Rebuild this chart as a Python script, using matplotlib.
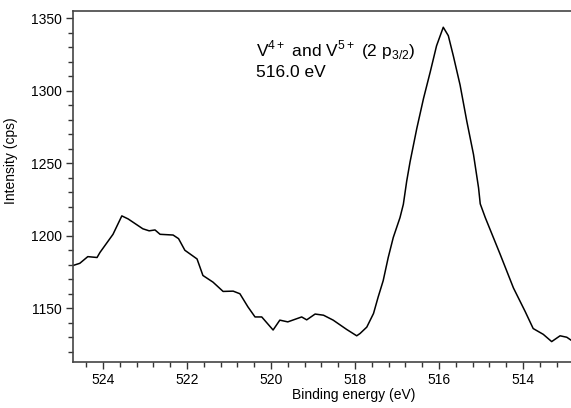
import matplotlib
matplotlib.use('Agg')
import matplotlib.pyplot as plt
from matplotlib.ticker import MultipleLocator

plt.rcParams['font.family'] = ['Liberation Sans', 'DejaVu Sans']
plt.rcParams['mathtext.fontset'] = 'custom'
plt.rcParams['mathtext.rm'] = 'Liberation Sans'

# binding energy (eV) and intensity (cps)
energy = [524.71, 524.55, 524.36, 524.14, 524.07, 523.76, 523.55, 523.4, 523.05,
          522.9, 522.76, 522.64, 522.33, 522.2, 522.05, 521.76, 521.62, 521.38,
          521.14, 520.9, 520.74, 520.55, 520.38, 520.22, 519.95, 519.79, 519.6,
          519.27, 519.15, 518.95, 518.75, 518.52, 518.2, 517.96, 517.88, 517.72,
          517.56, 517.45, 517.33, 517.21, 517.09, 516.93, 516.85, 516.77, 516.69,
          516.53, 516.37, 516.21, 516.06, 515.9, 515.78, 515.66, 515.5, 515.34,
          515.18, 515.06, 515.02, 514.9, 514.55, 514.23, 513.95, 513.76, 513.52,
          513.32, 513.12, 512.96, 512.86]
intensity = [1179.5, 1181, 1185.6, 1185, 1188.5, 1201, 1213.7, 1211.6, 1204.8,
             1203.4, 1204, 1201, 1200.5, 1198, 1190, 1184, 1172.6, 1168,
             1161.6, 1161.8, 1160, 1151, 1144, 1144, 1135, 1141.8, 1140.6,
             1144, 1142, 1146, 1145.2, 1141.8, 1135.4, 1131, 1132.6, 1137,
             1146.4, 1157.7, 1169, 1185, 1198.8, 1212.5, 1221.7, 1237.7, 1251,
             1274, 1294.7, 1313, 1331, 1343.8, 1338, 1324, 1304, 1279,
             1256, 1233, 1222, 1212.5, 1187.5, 1164, 1147.7, 1136, 1132,
             1127, 1131, 1130, 1128]

fig = plt.figure(figsize=(5.71, 4.08), dpi=100)
ax = fig.add_axes([0.128, 0.113, 0.872, 0.86])
ax.plot(energy, intensity, color='black', lw=1.1)

ax.set_xlim(524.71, 512.86)
ax.set_ylim(1113, 1355)
ax.xaxis.set_major_locator(MultipleLocator(2))
ax.xaxis.set_minor_locator(MultipleLocator(0.4))
ax.yaxis.set_major_locator(MultipleLocator(50))
ax.yaxis.set_minor_locator(MultipleLocator(10))
ax.tick_params(which='major', length=5, width=1, labelsize=10, color='#333333', pad=3)
ax.tick_params(which='minor', length=3.5, width=1, color='#333333')
ax.spines['right'].set_visible(False)
for s in ['top', 'left', 'bottom']:
    ax.spines[s].set_color('#444444')
    ax.spines[s].set_linewidth(1.2)

ax.set_xlabel('Binding energy (eV)', fontsize=10)
ax.xaxis.set_label_coords(0.564, -0.075)
ax.set_ylabel('Intensity (cps)', fontsize=10)
ax.yaxis.set_label_coords(-0.11, 0.573)

ax.text(0.368, 0.870, r'V$^{4+}$ and V$^{5+}$ (2 p$_{3/2}$)', transform=ax.transAxes,
        fontsize=12.5, va='baseline', ha='left')
ax.text(0.368, 0.813, '516.0 eV', transform=ax.transAxes, fontsize=12.5,
        va='baseline', ha='left')

fig.savefig('out.png', dpi=100)
